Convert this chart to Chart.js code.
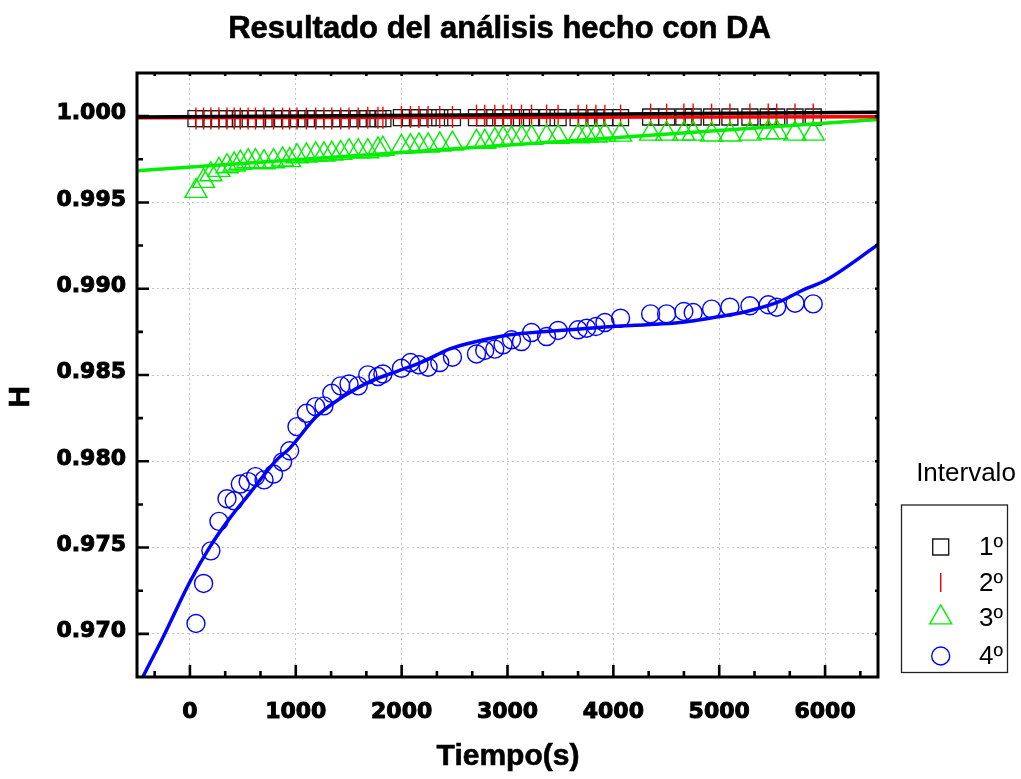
<!DOCTYPE html>
<html><head><meta charset="utf-8">
<script src="https://cdn.jsdelivr.net/npm/chart.js@4/dist/chart.umd.min.js"></script>
<style>html,body{margin:0;padding:0;background:#fff;}</style>
</head><body>
<canvas id="c" width="1021" height="779" style="width:1021px;height:779px;display:block"></canvas>
<script>
// ---- data ----
const TIME = [57,129,198,274,350,418,476,550,619,700,790,875,942,1011,1100,1188,1266,1340,1424,1503,1590,1680,1776,1823,1998,2083,2164,2250,2360,2480,2707,2785,2880,2958,3038,3132,3227,3369,3478,3667,3747,3835,3920,4068,4352,4503,4666,4754,4928,5101,5290,5463,5543,5716,5888];
const H1 = [0.99986,0.99986,0.99986,0.99986,0.99986,0.99986,0.99986,0.99986,0.99986,0.99986,0.99986,0.99986,0.99986,0.99986,0.99986,0.99986,0.99986,0.99986,0.99986,0.99986,0.99986,0.99986,0.99986,0.99986,0.99991,0.99991,0.99991,0.99991,0.99991,0.99991,0.99991,0.99991,0.99991,0.99991,0.99991,0.99991,0.99991,0.99991,0.99991,0.99991,0.99991,0.99991,0.99991,0.99991,0.99995,0.99995,0.99995,0.99995,0.99995,0.99995,0.99995,0.99995,0.99995,0.99995,0.99995];
const H2 = [0.99986,0.99986,0.99986,0.99986,0.99986,0.99986,0.99986,0.99986,0.99986,0.99986,0.99986,0.99986,0.99986,0.99986,0.99986,0.99986,0.99986,0.99986,0.99986,0.99986,0.99986,0.99990,0.99990,0.99990,0.99995,0.99995,0.99995,0.99995,0.99995,0.99995,1.00003,1.00003,1.00003,1.00003,1.00003,1.00003,1.00003,1.00003,1.00003,1.00003,1.00003,1.00003,1.00003,1.00003,1.00009,1.00009,1.00009,1.00009,1.00009,1.00009,1.00009,1.00009,1.00009,1.00009,1.00009];
const H3 = [0.99566,0.99624,0.99662,0.99688,0.99709,0.99719,0.99729,0.99738,0.99738,0.99732,0.99738,0.99748,0.99744,0.99767,0.99771,0.99777,0.99777,0.99782,0.99786,0.99796,0.99796,0.99796,0.99806,0.99810,0.99821,0.99825,0.99829,0.99829,0.99835,0.99840,0.99850,0.99850,0.99860,0.99868,0.99868,0.99874,0.99874,0.99879,0.99879,0.99883,0.99887,0.99887,0.99892,0.99892,0.99898,0.99898,0.99898,0.99898,0.99893,0.99893,0.99898,0.99906,0.99906,0.99898,0.99898];
const H4 = [0.97060,0.97292,0.97481,0.97652,0.97783,0.97771,0.97868,0.97882,0.97911,0.97892,0.97926,0.97996,0.98061,0.98201,0.98278,0.98317,0.98321,0.98394,0.98437,0.98448,0.98437,0.98501,0.98491,0.98506,0.98539,0.98572,0.98559,0.98545,0.98572,0.98603,0.98622,0.98642,0.98650,0.98675,0.98704,0.98694,0.98746,0.98723,0.98758,0.98762,0.98771,0.98781,0.98804,0.98829,0.98854,0.98854,0.98868,0.98862,0.98882,0.98893,0.98901,0.98907,0.98893,0.98916,0.98912];
const FIT1_X = [-500, 6500];
const FIT1_Y = [0.99995, 1.00022];
const FIT2_X = [-500, 6500];
const FIT2_Y = [0.99990, 0.99997];
const FIT3_X = [-500, 6500];
const FIT3_Y = [0.99684, 0.99981];
const FIT4_X = [-500,-445,-250,0,186,375,565,817,942,1195,1446,1699,1951,2202,2455,2707,3022,3369,3683,3998,4314,4628,5006,5259,5573,5762,6015,6500];
const FIT4_Y = [0.96680,0.96750,0.96985,0.97302,0.97501,0.97669,0.97814,0.98007,0.98075,0.98259,0.98375,0.98462,0.98520,0.98578,0.98651,0.98694,0.98733,0.98752,0.98766,0.98781,0.98791,0.98804,0.98839,0.98868,0.98926,0.98984,0.99052,0.99255];
const X_TICKS = [0,1000,2000,3000,4000,5000,6000];
const Y_TICKS = [0.970,0.975,0.980,0.985,0.990,0.995,1.000];
const SERIES = ['1º','2º','3º','4º'];
const TITLE = 'Resultado del análisis hecho con DA';
const X_TITLE = 'Tiempo(s)';
const Y_TITLE = 'H';
const LEGEND_TITLE = 'Intervalo';

const pts = (xs, ys) => xs.map((x, i) => ({x: x, y: ys[i]}));
const TRANSP = 'rgba(0,0,0,0)';

const markerStyles = [
  {pointStyle:'rect', radius:11.3, rotation:0, color:'#1a1a1a', width:1.3},
  {pointStyle:'line', radius:11, rotation:90, color:'#ff0000', width:1.4},
  {pointStyle:'triangle', radius:12.7, rotation:0, color:'#00ee00', width:1.4},
  {pointStyle:'circle', radius:9, rotation:0, color:'#0000ff', width:1.4}
];
const legendMarker = [
  {pointStyle:'rect', radius:11.3, rotation:0},
  {pointStyle:'line', radius:9.5, rotation:90},
  {pointStyle:'triangle', radius:12.7, rotation:0},
  {pointStyle:'circle', radius:9, rotation:0}
];
const seriesData = [H1, H2, H3, H4];
const fits = [[FIT1_X, FIT1_Y, '#000000'], [FIT2_X, FIT2_Y, '#ff0000'], [FIT3_X, FIT3_Y, '#00ee00'], [FIT4_X, FIT4_Y, '#0000ff']];

const datasets = [];
fits.forEach((f, i) => {
  datasets.push({label: 'fit ' + SERIES[i], data: pts(f[0], f[1]), showLine: true, borderColor: f[2], borderWidth: 3.5,
    pointRadius: 0, pointHoverRadius: 0, fill: false, cubicInterpolationMode: 'monotone', order: 0});
});
seriesData.forEach((d, i) => {
  const m = markerStyles[i];
  datasets.push({label: SERIES[i], data: pts(TIME, d), showLine: false, pointStyle: m.pointStyle,
    pointRadius: m.radius, pointHoverRadius: m.radius, pointRotation: m.rotation,
    pointBorderColor: m.color, borderColor: m.color, pointBorderWidth: m.width,
    pointBackgroundColor: TRANSP, backgroundColor: TRANSP, order: 1 + (3 - i)});
});

const framePlugin = {
  id: 'frame',
  afterDatasetsDraw(chart) {
    const {ctx, chartArea: a, scales: {x, y}} = chart;
    ctx.save();
    ctx.strokeStyle = '#000';
    ctx.lineWidth = 2.6;
    ctx.lineCap = 'butt';
    ctx.beginPath();
    for (let k = -1; k <= 19; k++) {
      const px = x.getPixelForValue(k * 1000 / 3);
      if (px <= a.left + 2 || px >= a.right - 2) continue;
      const L = (k % 3 === 0) ? 12 : 6;
      ctx.moveTo(px, a.bottom); ctx.lineTo(px, a.bottom - L);
      ctx.moveTo(px, a.top); ctx.lineTo(px, a.top + 3);
    }
    for (let k = 1; k <= 13; k++) {
      const v = 0.9675 + k * 0.0025;
      const py = y.getPixelForValue(v);
      const L = (k % 2 === 1) ? 12 : 6;
      ctx.moveTo(a.left, py); ctx.lineTo(a.left + L, py);
      ctx.moveTo(a.right, py); ctx.lineTo(a.right - 3, py);
    }
    ctx.stroke();
    ctx.lineWidth = 3;
    ctx.strokeRect(a.left, a.top, a.right - a.left, a.bottom - a.top);
    ctx.restore();
  },
  afterDraw(chart) {
    const ctx = chart.ctx;
    ctx.save();
    ctx.fillStyle = '#000';
    ctx.strokeStyle = '#000';
    ctx.textAlign = 'center';
    ctx.textBaseline = 'middle';
    ctx.font = 'bold 31px "Liberation Sans", Arial, sans-serif';
    ctx.lineWidth = 0.6;
    ctx.fillText(TITLE, 499.5, 29);
    ctx.strokeText(TITLE, 499.5, 29);
    ctx.font = 'bold 30px "Liberation Sans", Arial, sans-serif';
    ctx.fillText(X_TITLE, 508, 757);
    ctx.strokeText(X_TITLE, 508, 757);
    ctx.save();
    ctx.translate(21, 397);
    ctx.rotate(-Math.PI / 2);
    ctx.fillText(Y_TITLE, 0, 0);
    ctx.strokeText(Y_TITLE, 0, 0);
    ctx.restore();
    // legend
    ctx.font = '26px "Liberation Sans", Arial, sans-serif';
    ctx.fillText(LEGEND_TITLE, 966, 474);
    ctx.strokeStyle = '#222';
    ctx.lineWidth = 1.3;
    ctx.strokeRect(901.5, 505, 106, 167.5);
    const rows = [547, 582.5, 617.5, 656];
    const hasHelper = Chart.helpers && Chart.helpers.drawPoint;
    rows.forEach((ry, i) => {
      const m = legendMarker[i];
      ctx.strokeStyle = markerStyles[i].color;
      ctx.fillStyle = TRANSP;
      ctx.lineWidth = 1.4;
      if (hasHelper) {
        Chart.helpers.drawPoint(ctx, {pointStyle: m.pointStyle, radius: m.radius, rotation: m.rotation, borderWidth: 1.4}, 940.7, ry);
      }
      ctx.fillStyle = '#000';
      ctx.textAlign = 'left';
      ctx.font = '26px "Liberation Sans", Arial, sans-serif';
      ctx.fillText(SERIES[i], 979, ry + 1);
    });
    ctx.restore();
  }
};

const tickFont = {family: '"DejaVu Sans", sans-serif', weight: 'bold', size: 22};

new Chart(document.getElementById('c'), {
  type: 'scatter',
  data: {datasets: datasets},
  options: {
    responsive: false,
    animation: false,
    events: [],
    layout: {padding: {top: 73, right: 143, left: 0, bottom: 0}},
    plugins: {legend: {display: false}, tooltip: {enabled: false}, title: {display: false}},
    scales: {
      x: {
        type: 'linear', min: -500, max: 6500,
        afterBuildTicks: s => { s.ticks = X_TICKS.map(v => ({value: v})); },
        afterFit: s => { s.height = 102; },
        ticks: {font: tickFont, color: '#000', padding: 22, maxRotation: 0, autoSkip: false,
          textStrokeColor: '#000', textStrokeWidth: 1, callback: v => String(v)},
        grid: {color: '#c4c4c4', lineWidth: 1, drawTicks: false},
        border: {display: false, dash: [2, 3]}
      },
      y: {
        type: 'linear', min: 0.9675, max: 1.0025,
        afterBuildTicks: s => { s.ticks = Y_TICKS.map(v => ({value: v})); },
        afterFit: s => { s.width = 137; },
        ticks: {font: tickFont, color: '#000', padding: 11, autoSkip: false, labelOffset: -2.5,
          textStrokeColor: '#000', textStrokeWidth: 1, callback: v => Number(v).toFixed(3)},
        grid: {color: '#c4c4c4', lineWidth: 1, drawTicks: false},
        border: {display: false, dash: [2, 3]}
      }
    }
  },
  plugins: [framePlugin]
});
</script>
</body></html>
